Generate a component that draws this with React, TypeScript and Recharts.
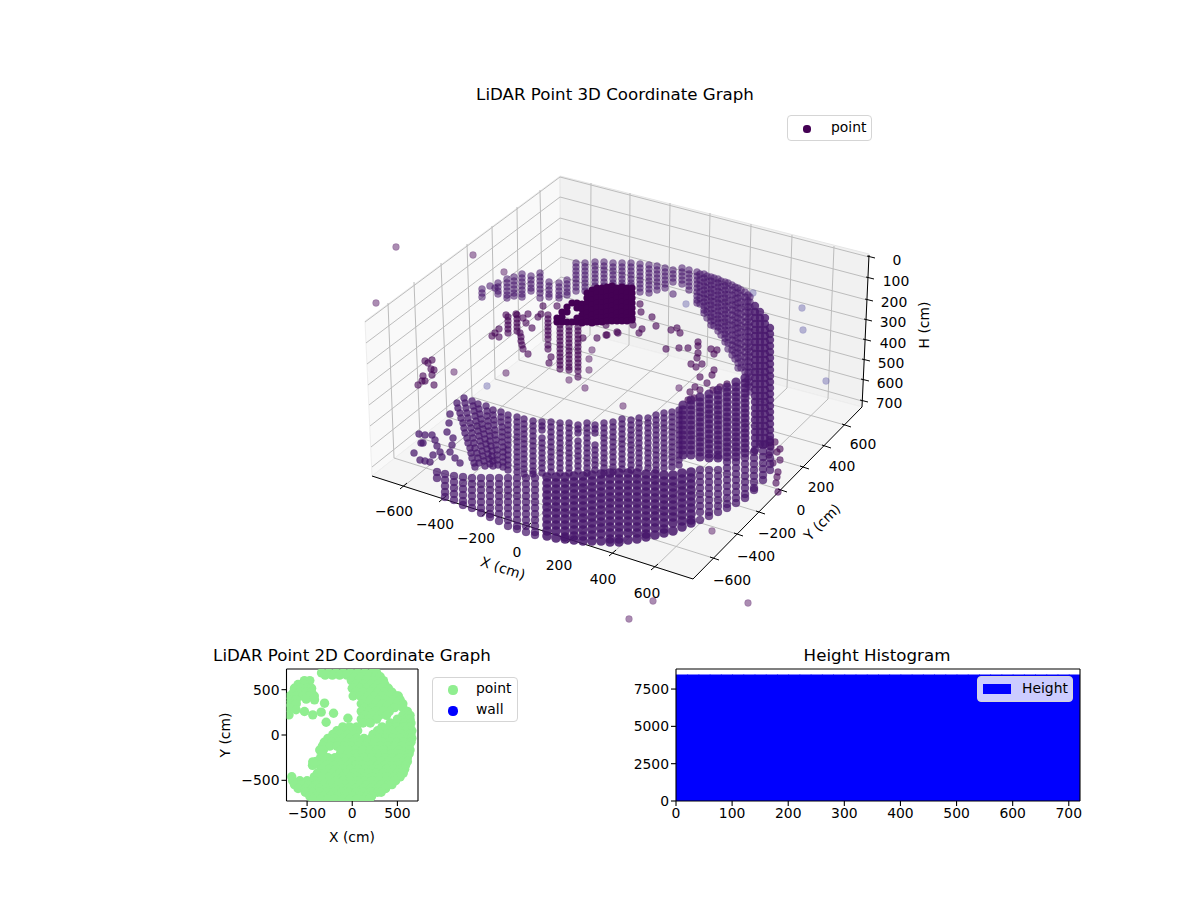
import { ScatterChart, Scatter, BarChart, Bar, XAxis, YAxis, ReferenceLine, Legend } from "recharts";

const FONT = "DejaVu Sans, Verdana, sans-serif";
const PURPLE = "#440154";
const WALL = "#47166b";

// 3D panel: everything is read as projected position on the figure plane
const leftPane = "560,176 365,321 372,476 561,327";
const rightPane = "560,176 869,254 862,407 561,327";
const floorPane = "561,327 372,476 693,579 862,407";

const heightLevels = [0, 100, 200, 300, 400, 500, 600, 700];
const heightOnLeftEdge = [[365, 322], [366, 343], [367, 364], [368, 385], [369, 405], [370, 426], [371, 447], [372, 467]];
const heightOnBackEdge = [[560, 177], [560, 197], [560, 218], [560, 238], [561, 257], [561, 277], [561, 296], [561, 316]];
const heightOnRightEdge = [[869, 257], [868, 278], [867, 300], [866, 320], [865, 340], [864, 360], [863, 380], [862, 401]];

const xLevels = [-600, -400, -200, 0, 200, 400, 600];
const xOnFront = [[404, 486], [443, 499], [486, 513], [528, 526], [571, 540], [613, 553], [655, 567]];
const xOnBackFloor = [[590, 335], [629, 345], [668, 356], [707, 366], [747, 377], [787, 388], [828, 399]];
const xOnTop = [[591, 183], [630, 193], [670, 203], [710, 213], [751, 224], [792, 235], [834, 246]];
const xLabelSpots = [[394, 511], [435, 524], [476, 538], [517, 552], [559, 565], [603, 579], [647, 593]];

const yLevels = [-600, -400, -200, 0, 200, 400, 600];
const yOnRightFront = [[713, 558], [737, 534], [759, 512], [781, 490], [803, 467], [825, 446], [845, 425]];
const yOnLeftFloor = [[394, 458], [420, 438], [447, 417], [472, 397], [495, 379], [519, 360], [543, 341]];
const yOnTop = [[388, 303], [414, 282], [441, 263], [467, 244], [492, 226], [517, 207], [540, 190]];
const yLabelSpots = [[732, 580], [756, 556], [777, 533], [801, 510], [821, 487], [842, 466], [863, 444]];
const heightLabelSpots = [[897, 260], [896, 281], [894, 302], [893, 322], [893, 343], [891, 363], [890, 383], [889, 403]];

const farPoints = [[487, 386], [686, 304], [802, 308], [803, 330], [826, 381], [753, 293]];
const strayPoints = [
  [396, 247], [473, 255], [376, 303], [504, 272], [454, 372], [506, 373], [569, 380], [585, 388], [589, 370], [589, 359],
  [592, 350], [653, 601], [629, 619], [748, 603], [712, 531], [623, 406], [679, 388],
];
const cornerCluster = [
  [425, 361], [432, 360], [428, 363], [434, 370], [431, 369], [432, 375], [423, 376], [422, 381], [425, 381], [418, 385], [434, 385],
];

const innerPoints = [
  [543, 306], [538, 317], [541, 314], [557, 306], [506, 315], [516, 314], [526, 323], [532, 328], [523, 318], [528, 314],
  [492, 336], [495, 333], [499, 329], [499, 337], [520, 333], [521, 337], [521, 341], [522, 345], [523, 349], [528, 354],
  [551, 357], [549, 363], [597, 338], [607, 335], [617, 332], [583, 338], [606, 325], [640, 304], [641, 312], [652, 317],
  [656, 326], [633, 325], [642, 329], [639, 333], [618, 333], [606, 335], [671, 330], [677, 328], [680, 333], [666, 349],
  [679, 348], [688, 348], [711, 349], [717, 350], [714, 354], [698, 342], [698, 346], [698, 353], [697, 358], [696, 367],
  [691, 364], [702, 364], [714, 370], [712, 375], [700, 377], [727, 384], [720, 387], [713, 390], [707, 383], [695, 387],
  [690, 392], [694, 398], [700, 390], [688, 400], [780, 449], [777, 452], [780, 460], [773, 463], [778, 472], [777, 477],
  [776, 483], [778, 492], [775, 442], [769, 455], [771, 447],
];
const innerColumns = [
  [508, 317, 321, 325, 329, 333],
  [517, 315, 319, 323, 327, 331],
  [548, 315, 319, 323, 327, 331, 335, 339, 345, 349],
  [560, 325, 329, 333, 337, 341, 345, 349, 353, 357, 361, 365, 369],
  [569, 327, 331, 335, 339, 343, 347, 351, 355, 359, 363, 367, 370],
  [578, 327, 331, 335, 339, 343, 347, 351, 355, 359, 363, 367, 371, 377],
];

const blobColumns = [
  [557, 318, 322],
  [562, 312, 317, 322],
  [567, 307, 312, 322],
  [572, 303, 322],
  [577, 303, 308, 318, 322],
  [582, 304, 309, 315, 320, 323],
  [587, 293, 298, 303, 308, 313, 318, 322],
  [592, 290, 295, 300, 305, 310, 315, 320, 323],
  [597, 288, 293, 298, 303, 308, 313, 318, 322],
  [602, 288, 293, 298, 303, 308, 313, 318, 322],
  [607, 287, 292, 297, 302, 307, 312, 317, 321],
  [612, 286, 291, 296, 301, 306, 311, 316, 321],
  [617, 288, 293, 298, 303, 308, 313, 318, 321],
  [622, 287, 292, 297, 302, 307, 312, 317, 321],
  [627, 288, 293, 298, 303, 308, 313, 318, 321],
  [632, 288, 293, 298, 303, 308, 313, 318, 320],
];

const backWallColumns = [
  [482, 289, 293, 297],
  [490, 286],
  [495, 288],
  [498, 283, 287, 291, 294],
  [507, 279, 283, 287, 291, 295, 298],
  [514, 277, 281, 285, 289, 293, 296],
  [522, 274, 278, 282, 286, 290, 294, 297],
  [531, 276, 280, 284, 288, 291],
  [540, 273, 277, 281, 285, 289, 293, 298],
  [549, 282, 286, 290, 294, 297],
  [559, 283, 287, 291, 295, 298],
  [567, 280, 284, 288, 292, 295],
  [576, 263, 267, 271, 275, 279, 283, 287, 291],
  [585, 263, 267, 271, 275, 279, 283, 287, 291],
  [595, 262, 266, 270, 274, 278, 282, 286, 290],
  [604, 262, 266, 270, 274, 278, 282, 286],
  [613, 263, 267, 271, 275, 279, 283, 286],
  [622, 263, 267, 271, 275, 279, 283, 286],
  [631, 263, 267, 271, 275, 279, 283, 286],
  [640, 264, 268, 272, 276, 280, 284, 288, 292],
  [649, 265, 269, 273, 277, 281, 285, 289, 293],
  [657, 266, 270, 274, 278, 282, 286, 290],
  [665, 268, 272, 276, 280, 284, 288],
  [673, 270, 274, 278, 282, 294],
  [682, 268, 272, 276, 280, 284],
  [689, 270, 274, 278, 282, 286, 290],
  [697, 272, 276, 280, 284, 288, 292, 296, 300, 303],
  [704, 274, 278, 282, 286, 290, 294, 298, 302, 306, 310, 313],
  [711, 277, 281, 285, 289, 293, 297, 301, 305, 309, 313, 317, 321, 325],
  [718, 279, 283, 287, 291, 295, 299, 303, 307, 311, 315, 319, 323, 327, 331],
  [725, 282, 286, 290, 294, 298, 302, 306, 310, 314, 318, 322, 326, 330, 334, 338, 342],
  [732, 285, 290, 295, 300, 305, 310, 315, 320, 325, 330, 335, 340, 345, 350, 355],
  [738, 288, 293, 298, 303, 308, 313, 318, 323, 328, 333, 338, 343, 348, 353, 358, 363, 368],
  [745, 292, 297, 302, 307, 312, 317, 322, 327, 332, 337, 342, 347, 352, 357, 362, 367, 372],
  [750, 297, 302, 307, 312, 317, 322, 327, 332, 337, 342, 347, 352, 357, 362, 367, 372, 377, 382, 387, 392],
];

const backWallInfill = [
  [700, 274, 280, 286, 292, 298, 304],
  [707, 276, 282, 288, 294, 300, 306, 312, 318],
  [714, 278, 284, 290, 296, 302, 308, 314, 320, 326],
  [721, 281, 287, 293, 299, 305, 311, 317, 323, 329, 335],
  [728, 283, 289, 295, 301, 307, 313, 319, 325, 331, 337, 343, 349],
  [735, 287, 293, 299, 305, 311, 317, 323, 329, 335, 341, 347, 353, 359],
  [741, 290, 296, 302, 308, 314, 320, 326, 332, 338, 344, 350, 356, 362, 368],
  [748, 295, 301, 307, 313, 319, 325, 331, 337, 343, 349, 355, 361, 367, 373, 379, 385],
];

const rightEdgeColumns = [
  [755, 306, 312, 318, 324, 330, 336, 342, 348, 354, 360, 366, 372, 378, 384, 390, 396, 402, 408, 414, 420, 426, 432, 438, 444, 450],
  [760, 312, 318, 324, 330, 336, 342, 348, 354, 360, 366, 372, 378, 384, 390, 396, 402, 408, 414, 420, 426, 432, 438, 444],
  [765, 318, 324, 330, 336, 342, 348, 354, 360, 366, 372, 378, 384, 390, 396, 402, 408, 414, 420, 426, 432, 438, 444],
  [770, 328, 334, 340, 346, 352, 358, 364, 370, 376, 382, 388, 394, 400, 406, 412, 418, 424, 430, 436, 442],
];

const rightFrontColumns = [
  [683, 405, 410, 415, 420, 425, 430, 435, 440, 445, 450, 455],
  [691, 400, 405, 410, 415, 420, 425, 430, 435, 440, 445, 450, 455],
  [700, 397, 402, 407, 412, 417, 422, 427, 432, 437, 442, 447, 452, 457],
  [709, 394, 399, 404, 409, 414, 419, 424, 429, 434, 439, 444, 449, 454, 458],
  [718, 390, 395, 400, 405, 410, 415, 420, 425, 430, 435, 440, 445, 450, 455, 458],
  [727, 387, 392, 397, 402, 407, 412, 417, 422, 427, 432, 437, 442, 447, 452, 457],
  [736, 382, 387, 392, 397, 402, 407, 412, 417, 422, 427, 432, 437, 442, 447, 452, 457],
  [745, 378, 383, 388, 393, 398, 403, 408, 413, 418, 423, 428, 433, 438, 443, 448, 453],
];

const leaningWallPoints = [
  [419, 434], [425, 435], [423, 443], [421, 443], [414, 453], [420, 460], [425, 461], [432, 435], [435, 440], [437, 446],
  [440, 452], [442, 457], [433, 455], [430, 462], [450, 414], [449, 423], [447, 432], [453, 438], [452, 445], [450, 452],
  [455, 458], [460, 463],
  [457, 403], [458, 408], [460, 413], [461, 418], [463, 423], [464, 428], [465, 433], [467, 438], [468, 443], [470, 448], [471, 453], [472, 458], [474, 463], [475, 467],
  [464, 398], [465, 403], [466, 408], [467, 413], [468, 418], [470, 423], [471, 428], [472, 433], [473, 438], [474, 443], [475, 448], [477, 453], [478, 458], [479, 463],
  [472, 401], [473, 406], [474, 411], [475, 416], [476, 421], [477, 426], [478, 431], [479, 436], [480, 441], [481, 446], [482, 451], [483, 456], [484, 461], [485, 466],
  [478, 404], [479, 409], [480, 414], [481, 419], [482, 424], [483, 429], [484, 434], [485, 439], [486, 444], [487, 449], [488, 454], [489, 459], [490, 464],
  [486, 406], [487, 411], [487, 416], [488, 421], [488, 426], [489, 431], [490, 436], [490, 441], [491, 446], [492, 451], [492, 456], [493, 461], [493, 466],
  [493, 410], [493, 415], [494, 420], [494, 425], [495, 430], [495, 435], [496, 440], [496, 445], [497, 450], [497, 455], [497, 460], [498, 465],
  [501, 412], [501, 417], [501, 422], [502, 427], [502, 432], [502, 437], [502, 442], [503, 447], [503, 452], [503, 457], [503, 462], [503, 467],
];

const frontWallColumns = [
  [508, 415, 420, 425, 430, 435, 440, 445, 450, 455, 460, 465, 470],
  [517, 417, 422, 427, 432, 437, 442, 447, 452, 457, 462, 467, 472],
  [524, 419, 424, 429, 434, 439, 444, 449, 454, 459, 464, 469, 474],
  [533, 421, 426, 431, 436, 441, 446, 451, 456, 461, 466, 471, 474],
  [542, 422, 426, 430, 438, 443, 448, 453, 458, 463, 468, 473],
  [551, 422, 427, 432, 437, 442, 447, 452, 457, 462, 467, 472],
  [560, 423, 428, 433, 438, 443, 448, 453, 458, 463, 468, 473],
  [569, 423, 428, 433, 438, 443, 448, 453, 458, 463, 468, 473],
  [578, 425, 429, 433, 441, 446, 451, 456, 461, 466, 471],
  [587, 423, 428, 433, 438, 443, 448, 453, 458, 463, 468, 473],
  [595, 425, 429, 433, 445, 450, 455, 460, 465, 470],
  [604, 423, 428, 433, 438, 443, 448, 453, 458, 463, 468, 473],
  [613, 422, 427, 432, 437, 442, 447, 452, 457, 462, 467, 472],
  [622, 419, 424, 429, 434, 439, 444, 449, 454, 459, 464, 469],
  [631, 420, 425, 430, 435, 440, 445, 450, 455, 460, 465, 470],
  [639, 418, 423, 428, 433, 438, 443, 448, 453, 458, 463, 468],
  [648, 418, 423, 428, 433, 438, 443, 448, 453, 458, 463, 468],
  [656, 415, 420, 425, 430, 435, 440, 445, 450, 455, 460, 465, 470],
  [664, 413, 418, 423, 428, 433, 438, 443, 448, 453, 458, 463, 468],
  [672, 412, 417, 422, 427, 432, 437, 442, 447, 452, 457, 462, 467],
  [679, 410, 415, 420, 425, 430, 435, 440, 445, 450, 455, 460, 465],
];

// looser ends of the floor ring, individual dots still show
const floorLeftColumns = [
  [437, 472, 478],
  [445, 474, 480, 486, 492, 497],
  [454, 476, 482, 488, 494, 500],
  [463, 477, 483, 489, 495, 501, 505],
  [472, 478, 484, 490, 496, 502, 508],
  [481, 478, 484, 490, 496, 502, 508, 513],
  [490, 478, 484, 490, 496, 502, 508, 514, 517],
  [499, 478, 484, 490, 496, 502, 508, 514, 521],
  [508, 478, 484, 490, 496, 502, 508, 514, 520, 526],
  [517, 478, 484, 490, 496, 502, 508, 514, 520, 526, 529],
  [526, 478, 484, 490, 496, 502, 508, 514, 520, 526, 532],
  [535, 478, 484, 490, 496, 502, 508, 514, 520, 526, 532, 535],
];
const floorMiddleColumns = [
  [547, 477, 483, 489, 495, 501, 507, 513, 519, 525, 531, 536],
  [556, 477, 483, 489, 495, 501, 507, 513, 519, 525, 531, 538],
  [565, 477, 483, 489, 495, 501, 507, 513, 519, 525, 531, 537, 539],
  [574, 476, 482, 488, 494, 500, 506, 512, 518, 524, 530, 536, 540],
  [583, 476, 482, 488, 494, 500, 506, 512, 518, 524, 530, 536, 541],
  [592, 475, 481, 487, 493, 499, 505, 511, 517, 523, 529, 535, 541],
  [601, 474, 480, 486, 492, 498, 504, 510, 516, 522, 528, 534, 541],
  [610, 473, 479, 485, 491, 497, 503, 509, 515, 521, 527, 533, 539, 542],
  [619, 473, 479, 485, 491, 497, 503, 509, 515, 521, 527, 533, 539, 542],
  [628, 473, 479, 485, 491, 497, 503, 509, 515, 521, 527, 533, 540],
  [637, 473, 479, 485, 491, 497, 503, 509, 515, 521, 527, 533, 539],
  [646, 474, 480, 486, 492, 498, 504, 510, 516, 522, 528, 534, 537],
  [655, 474, 480, 486, 492, 498, 504, 510, 516, 522, 528, 535],
  [664, 475, 481, 487, 493, 499, 505, 511, 517, 523, 529, 533],
  [673, 475, 481, 487, 493, 499, 505, 511, 517, 523, 531],
  [682, 473, 479, 485, 491, 497, 503, 509, 515, 521, 527],
  [691, 472, 478, 484, 490, 496, 502, 508, 514, 520, 523],
];
const floorRightColumns = [
  [700, 470, 476, 482, 488, 494, 500, 506, 512, 520],
  [709, 470, 476, 482, 488, 494, 500, 506, 512, 516],
  [718, 470, 476, 482, 488, 494, 500, 506, 512],
  [727, 462, 468, 474, 480, 486, 492, 498, 504, 508],
  [736, 462, 468, 474, 480, 486, 492, 498, 503],
  [745, 458, 464, 470, 476, 482, 488, 494, 498],
  [754, 452, 458, 464, 470, 476, 482, 488, 490],
  [763, 445, 451, 457, 463, 469, 475, 480],
  [770, 440, 446, 452, 458, 464, 470],
];

// 2D panel, rows of [Y, X, X, ...] in cm
const topViewRows = [
  [685, -340, -260, -180, -100, -20, 60, 140, 220, 270],
  [660, -300, -220, -140, -60],
  [642, 20, 100, 180, 260, 310],
  [600, -530, -470, -10, 70, 150, 230, 310, 345],
  [557, 40, 120, 200, 280, 360, -600, -530],
  [515, -640, -570, -500, -450, 0, 80, 160, 240, 320, 400],
  [472, 40, 120, 200, 280, 360, 440, -650, -580, -510, -450],
  [430, -690, -620, -550, -480, -420, 10, 90, 170, 250, 330, 410, 490, 510],
  [387, 130, 210, 290, 370, 450, 530, -680, -620],
  [345, -690, -620, 100, 180, 260, 340, 420, 500, 560],
  [302, 140, 220, 300, 380, 470, 560, -700],
  [260, 100, 180, 260, 340, 410, 610],
  [217, 140, 220, 300, 380, 560, 640],
  [175, 100, 190, 270, 500, 600, 640],
  [132, 120, 200, 420, 500, 580, 650],
  [90, -105, -30, 50, 330, 410, 490, 570, 640],
  [47, -170, -90, -10, 60, 280, 360, 440, 520, 600, 660],
  [5, -215, -135, -55, 30, 230, 310, 390, 470, 550, 630, 650],
  [-37, -270, -190, -110, -30, 50, 130, 210, 290, 370, 450, 530, 610, 660],
  [-80, -310, -230, -150, -70, 10, 90, 170, 250, 330, 410, 490, 570, 650],
  [-122, -330, -250, -170, -90, -10, 70, 150, 230, 310, 390, 470, 550, 630],
  [-165, -360, -320, -125, -45, 35, 115, 195, 275, 355, 435, 515, 595, 640],
  [-207, -330, -130, -50, 30, 110, 190, 270, 350, 430, 510, 590, 630],
  [-250, -350, -270, -190, -110, -30, 50, 130, 210, 290, 370, 450, 530, 610],
  [-292, -400, -320, -240, -160, -80, 0, 80, 160, 240, 320, 400, 480, 560, 610],
  [-335, -440, -360, -280, -200, -120, -40, 40, 120, 200, 280, 360, 440, 520, 590],
  [-377, -340, -260, -180, -100, -20, 60, 140, 220, 300, 380, 460, 540, 580],
  [-420, -385, -300, -220, -140, -60, 20, 100, 180, 260, 340, 420, 500, 565],
  [-462, -420, -340, -260, -180, -100, -20, 60, 140, 220, 300, 380, 460, 530],
  [-505, -660, -580, -500, -420, -340, -260, -180, -100, -20, 60, 140, 220, 300, 380, 460, 480],
  [-547, -640, -560, -480, -400, -320, -240, -160, -80, 0, 80, 160, 240, 320, 400, 440],
  [-590, -600, -520, -440, -360, -280, -200, -120, -40, 40, 120, 200, 280, 360, 370],
  [-632, -520, -440, -360, -280, -200, -120, -40, 40, 120, 200, 280, 320],
  [-675, -470, -400, -320, -240, -160, -80, 0, 80, 160, 215],
  [-710, -430, -350, -270, -190, -110, -30, 50, 130, 190],
];
const topViewSingles = [
  [-510, 396], [-418, 388], [-307, 351], [-622, 278], [-529, 259], [-437, 222], [-344, 252], [-207, 240], [-289, 141], [-48, 185],
  [-700, 222], [-670, -460], [-437, -296],
];
const wallPoints: { x: number; y: number }[] = [];
const topTicks = [-500, 0, 500];

// histogram
const histBins = [10, 30, 50, 70, 90, 110, 130, 150, 170, 190, 210, 230, 250, 270, 290, 310, 330, 350, 370, 390, 410, 430, 450, 470, 490, 510, 530, 550, 570, 590, 610, 630, 650, 670, 690, 710];
const histCounts = [8410, 8410, 8410, 8410, 8410, 8410, 8410, 8410, 8410, 8410, 8410, 8410, 8410, 8410, 8410, 8410, 8410, 8410, 8410, 8410, 8410, 8410, 8410, 8410, 8410, 8410, 8410, 8410, 8410, 8410, 8410, 8410, 8410, 8410, 8410, 8410];
const histXTicks = [0, 100, 200, 300, 400, 500, 600, 700];
const histYTicks = [0, 2500, 5000, 7500];

const fromPairs = (pairs: number[][]) => pairs.map(([x, y]) => ({ x, y }));
const fromColumns = (cols: number[][]) => cols.flatMap(([x, ...ys]) => ys.map((y) => ({ x, y })));
const fromRows = (rows: number[][]) => rows.flatMap(([y, ...xs]) => xs.map((x) => ({ x, y })));

const topViewPoints = [...fromRows(topViewRows), ...fromPairs(topViewSingles)];
const histData = histBins.map((bin, i) => ({ bin, count: histCounts[i] }));

const fmt = (v: number) => String(v).replace("-", "\u2212");

// marker with a slightly heavier rim, the way matplotlib paints edge over face
const disc = (r: number, rim = 0.5) => (p: any) => (
  <circle cx={p.cx} cy={p.cy} r={r} fill={p.fill} fillOpacity={p.fillOpacity} stroke={p.fill} strokeOpacity={(p.fillOpacity ?? 1) * rim} strokeWidth={rim ? 0.8 : 0} />
);

function Seg({ a, b, color = "#bcbcbc", w = 1 }: { a: number[]; b: number[]; color?: string; w?: number }) {
  return (
    <ReferenceLine
      segment={[{ x: a[0], y: a[1] }, { x: b[0], y: b[1] }]}
      stroke={color}
      strokeWidth={w}
      ifOverflow="visible"
    />
  );
}

function Label({ at, text, size = 13.9, rotate = 0 }: { at: number[]; text: string; size?: number; rotate?: number }) {
  return (
    <text
      x={at[0]}
      y={at[1]}
      fontFamily={FONT}
      fontSize={size}
      fill="#000"
      textAnchor="middle"
      dominantBaseline="central"
      transform={rotate ? `rotate(${rotate} ${at[0]} ${at[1]})` : undefined}
    >
      {text}
    </text>
  );
}

function makeLegend(box: { width: number; height: number; bg?: string }, shown: string[], entries: { dx: number; textX: number; y: number; textY: number; r: number; rect?: boolean }[]) {
  return function LegendBox({ payload }: any) {
    const items = shown.map((name) => (payload || []).find((it: any) => it.value === name)).filter(Boolean);
    return (
      <div style={{ position: "relative", width: box.width, height: box.height, boxSizing: "border-box", border: "1px solid #d5d5d5", borderRadius: 4, background: box.bg || "rgba(255,255,255,0.8)", fontFamily: FONT, fontSize: 13.9, color: "#000" }}>
        {items.map((it: any, i: number) => {
          const e = entries[i];
          return (
            <div key={it.value}>
              {e.rect ? (
                <div style={{ position: "absolute", left: e.dx, top: e.y, width: 28, height: 10, background: it.color }} />
              ) : (
                <div style={{ position: "absolute", left: e.dx - e.r, top: e.y - e.r, width: e.r * 2, height: e.r * 2, borderRadius: "50%", background: it.color }} />
              )}
              <div style={{ position: "absolute", left: e.textX, top: e.textY - 9, lineHeight: "18px" }}>{it.value}</div>
            </div>
          );
        })}
      </div>
    );
  };
}

const Legend3D = makeLegend({ width: 85, height: 26 }, ["point"], [{ dx: 19, textX: 43, y: 13, textY: 11, r: 3.6 }]);
const LegendTop = makeLegend({ width: 86, height: 45 }, ["point", "wall"], [
  { dx: 20, textX: 43, y: 12, textY: 10, r: 4.6 },
  { dx: 20, textX: 43, y: 33, textY: 31, r: 4.6 },
]);
const LegendHist = makeLegend({ width: 96, height: 26, bg: "#ccccff" }, ["Height"], [{ dx: 5, textX: 44, y: 7, textY: 11, r: 0, rect: true }]);

const tick = { fill: "#000", fontSize: 13.9, fontFamily: FONT };
const axisLine = { stroke: "#000", strokeWidth: 1.1 };

function Panel3D() {
  const dot = { isAnimationActive: false };
  return (
    <div style={{ position: "absolute", left: 0, top: 0 }}>
      <ScatterChart width={1200} height={900} margin={{ top: 0, right: 0, bottom: 0, left: 0 }}>
        <XAxis type="number" dataKey="x" domain={[0, 1200]} hide />
        <YAxis type="number" dataKey="y" domain={[0, 900]} reversed hide />

        <polygon points={leftPane} fill="#f9f9f9" stroke="#eeeeee" />
        <polygon points={rightPane} fill="#f1f1f1" stroke="#e6e6e6" />
        <polygon points={floorPane} fill="#f5f5f5" stroke="#eeeeee" />

        {heightLevels.map((h, i) => <Seg key={"hl" + h} a={heightOnLeftEdge[i]} b={heightOnBackEdge[i]} />)}
        {heightLevels.map((h, i) => <Seg key={"hr" + h} a={heightOnBackEdge[i]} b={heightOnRightEdge[i]} />)}
        {xLevels.map((v, i) => <Seg key={"xf" + v} a={xOnFront[i]} b={xOnBackFloor[i]} />)}
        {xLevels.map((v, i) => <Seg key={"xb" + v} a={xOnBackFloor[i]} b={xOnTop[i]} />)}
        {yLevels.map((v, i) => <Seg key={"yf" + v} a={yOnRightFront[i]} b={yOnLeftFloor[i]} />)}
        {yLevels.map((v, i) => <Seg key={"yb" + v} a={yOnLeftFloor[i]} b={yOnTop[i]} />)}

        <Seg a={[372, 476]} b={[693, 579]} color="#000" />
        <Seg a={[693, 579]} b={[862, 407]} color="#000" />
        <Seg a={[862, 407]} b={[869, 255]} color="#000" />
        {xOnFront.map((p) => <Seg key={"xt" + p[0]} a={[p[0] - 4, p[1] + 3]} b={[p[0] + 3, p[1] - 3]} color="#000" />)}
        {yOnRightFront.map((p) => <Seg key={"yt" + p[0]} a={[p[0] - 3, p[1] - 1]} b={[p[0] + 6, p[1] + 2]} color="#000" />)}
        {heightOnRightEdge.map((p) => <Seg key={"zt" + p[1]} a={[p[0] - 2, p[1] - 1]} b={[p[0] + 6, p[1] + 1]} color="#000" />)}

        <Scatter {...dot} name="far" data={fromPairs(farPoints)} fill="#5a55a5" fillOpacity={0.4} shape={disc(3.4)} />
        <Scatter {...dot} name="stray" data={fromPairs(strayPoints)} fill={PURPLE} fillOpacity={0.45} shape={disc(3.4)} />
        <Scatter {...dot} name="back" data={fromColumns(backWallColumns)} fill={WALL} fillOpacity={0.55} shape={disc(3.5)} />
        <Scatter {...dot} name="infill" data={fromColumns(backWallInfill)} fill={WALL} fillOpacity={0.55} shape={disc(3.5)} />
        <Scatter {...dot} name="edge" data={fromColumns(rightEdgeColumns)} fill={WALL} fillOpacity={0.8} shape={disc(4.2, 0)} />
        <Scatter {...dot} name="inner" data={[...fromPairs(innerPoints), ...fromColumns(innerColumns), ...fromPairs(cornerCluster)]} fill={PURPLE} fillOpacity={0.6} shape={disc(3.4)} />
        <Scatter {...dot} name="point" data={fromColumns(blobColumns)} fill={PURPLE} fillOpacity={1} shape={disc(3.6, 0)} />
        <Scatter {...dot} name="wall" data={fromColumns(rightFrontColumns)} fill={WALL} fillOpacity={0.8} shape={disc(4.6, 0)} />
        <Scatter {...dot} name="front" data={[...fromPairs(leaningWallPoints), ...fromColumns(frontWallColumns)]} fill={WALL} fillOpacity={0.72} shape={disc(3.5)} />
        <Scatter {...dot} name="floorLeft" data={fromColumns(floorLeftColumns)} fill={WALL} fillOpacity={0.72} shape={disc(4, 0.4)} />
        <Scatter {...dot} name="floorRight" data={fromColumns(floorRightColumns)} fill={WALL} fillOpacity={0.72} shape={disc(4, 0.4)} />
        <Scatter {...dot} name="floorMiddle" data={fromColumns(floorMiddleColumns)} fill={WALL} fillOpacity={0.85} shape={disc(4.8, 0)} />

        <Label at={[615, 94]} text="LiDAR Point 3D Coordinate Graph" size={16.67} />
        {xLevels.map((v, i) => <Label key={"xl" + v} at={xLabelSpots[i]} text={fmt(v)} />)}
        {yLevels.map((v, i) => <Label key={"yl" + v} at={yLabelSpots[i]} text={fmt(v)} />)}
        {heightLevels.map((v, i) => <Label key={"zl" + v} at={heightLabelSpots[i]} text={fmt(v)} />)}
        <Label at={[503, 568]} text="X (cm)" rotate={18} />
        <Label at={[822, 522]} text="Y (cm)" rotate={-45} />
        <Label at={[924, 325]} text="H (cm)" rotate={-90} />

        <Legend content={<Legend3D />} layout="vertical" align="center" verticalAlign="middle" wrapperStyle={{ left: 787, top: 115, width: 85, height: 26, bottom: "auto", right: "auto", transform: "none" }} />
      </ScatterChart>
    </div>
  );
}

function PanelTop() {
  return (
    <div style={{ position: "absolute", left: 200, top: 640 }}>
      <ScatterChart width={330} height={210} margin={{ top: 29, right: 112, bottom: 0, left: 36 }}>
        <XAxis type="number" dataKey="x" domain={[-728, 728]} allowDataOverflow ticks={topTicks} tickFormatter={fmt} tick={tick} tickSize={5} axisLine={axisLine} tickLine={axisLine} height={49} interval={0} />
        <YAxis type="number" dataKey="y" domain={[-728, 728]} allowDataOverflow ticks={topTicks} tickFormatter={fmt} tick={tick} tickSize={5} axisLine={axisLine} tickLine={axisLine} width={50.5} interval={0} />
        <Scatter name="point" data={topViewPoints} fill="#90ee90" isAnimationActive={false} shape={disc(4.7, 0)} />
        <Scatter name="wall" data={wallPoints} fill="#0000ff" isAnimationActive={false} />
        <ReferenceLine x={728} stroke="#000" strokeWidth={1.1} ifOverflow="visible" />
        <ReferenceLine y={728} stroke="#000" strokeWidth={1.1} ifOverflow="visible" />
        <Label at={[152, 15.5]} text="LiDAR Point 2D Coordinate Graph" size={16.67} />
        <Label at={[152, 197]} text="X (cm)" />
        <Label at={[25, 95]} text="Y (cm)" rotate={-90} />
        <Legend content={<LegendTop />} layout="vertical" align="center" verticalAlign="middle" wrapperStyle={{ left: 232, top: 37, width: 86, height: 45, bottom: "auto", right: "auto", transform: "none" }} />
      </ScatterChart>
    </div>
  );
}

function PanelHist() {
  return (
    <div style={{ position: "absolute", left: 620, top: 640 }}>
      <BarChart width={480} height={210} data={histData} margin={{ top: 29, right: 20, bottom: 0, left: 6 }} barGap={0}>
        <XAxis type="number" dataKey="bin" domain={[0, 720]} allowDataOverflow ticks={histXTicks} tick={tick} tickSize={5} axisLine={axisLine} tickLine={axisLine} height={49} interval={0} />
        <YAxis type="number" domain={[0, 8843]} allowDataOverflow ticks={histYTicks} tick={tick} tickSize={5} axisLine={axisLine} tickLine={axisLine} width={50} interval={0} />
        <Bar name="Height" dataKey="count" fill="#0000ff" stroke="#0000ff" strokeWidth={2} barSize={12} isAnimationActive={false} />
        <ReferenceLine x={720} stroke="#000" strokeWidth={1.1} ifOverflow="visible" />
        <ReferenceLine y={8843} stroke="#000" strokeWidth={1.1} ifOverflow="visible" />
        <Label at={[257, 15.5]} text="Height Histogram" size={16.67} />
        <Legend content={<LegendHist />} layout="vertical" align="center" verticalAlign="middle" wrapperStyle={{ left: 357, top: 36, width: 96, height: 26, bottom: "auto", right: "auto", transform: "none" }} />
      </BarChart>
    </div>
  );
}

export default function App() {
  return (
    <div style={{ position: "absolute", left: 0, top: 0, width: 1200, height: 900, background: "#fff" }}>
      <Panel3D />
      <PanelTop />
      <PanelHist />
    </div>
  );
}
